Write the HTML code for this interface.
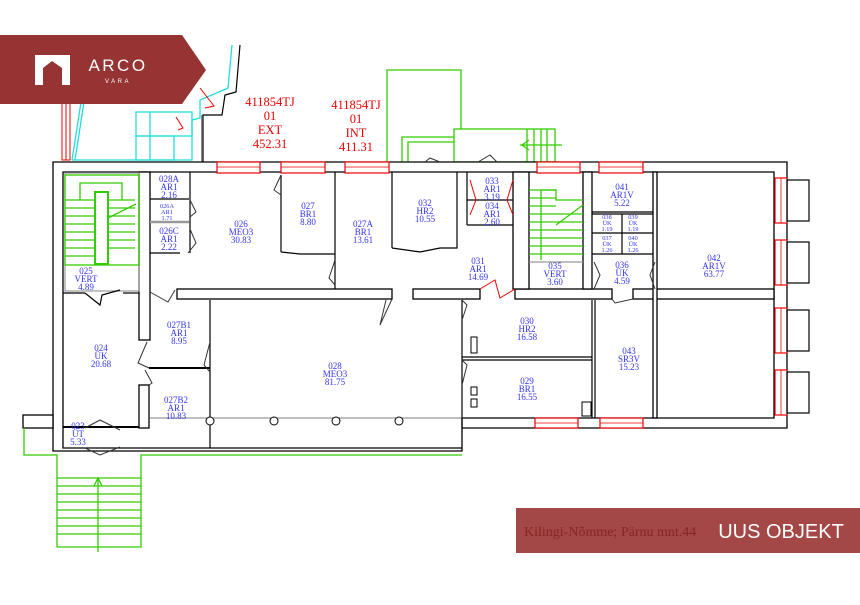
<!DOCTYPE html>
<html><head><meta charset="utf-8"><style>
html,body{margin:0;padding:0;background:#fff;}
svg{display:block;}
.w{fill:#fff;stroke:#000;stroke-width:1.3;}
.k{stroke:#000;stroke-width:1.2;fill:none;}
.g{stroke:#33cc00;stroke-width:1.3;fill:none;}
.c{stroke:#22dddd;stroke-width:1.3;fill:none;}
.r{fill:#fff;stroke:#e00;stroke-width:1.2;}
.lb{font-family:"Liberation Serif",serif;font-size:9px;fill:#3333ee;text-anchor:middle;}
.sm{font-size:6.3px;}
.rd{font-family:"Liberation Serif",serif;font-size:12.5px;fill:#e00;text-anchor:middle;}
</style></head><body>
<svg width="860" height="605" viewBox="0 0 860 605" xmlns="http://www.w3.org/2000/svg">
<g class="c">
<polyline points="72,160 86,70"/>
<polyline points="75,160 89,70"/>
<polyline points="72,160 192,160 192,120 200,118 200,100 228,88 232,45"/>
<rect x="136" y="112" width="56" height="24"/>
<rect x="136" y="136" width="38" height="24"/>
<line x1="150" y1="112" x2="150" y2="160"/>
</g>
<polyline class="k" points="240,45 236,92 225,95 222,115 203,115 203,162" />
<line x1="202" y1="115" x2="202" y2="162" stroke="#666" stroke-width="1.5"/>
<g fill="none" stroke="#e00" stroke-width="1">
<rect x="62" y="100" width="8" height="60"/>
<line x1="66" y1="100" x2="66" y2="160"/>
<path d="M200,88 L214,106 L205,108"/>
<path d="M176,117 L183,128 L178,130"/>
</g>
<g class="g">
<polyline points="387,162 387,70 461,70 461,129"/>
<polyline points="402,162 402,137 454,137"/>
<polyline points="408,162 408,142 454,142"/>
<rect x="454" y="129" width="101" height="33"/>
<line x1="527" y1="129" x2="527" y2="162"/>
<line x1="534" y1="129" x2="534" y2="162"/>
<line x1="541" y1="129" x2="541" y2="162"/>
<line x1="547" y1="129" x2="547" y2="162"/>
<line x1="520" y1="145" x2="562" y2="145"/>
<polyline points="529,140 522,145 529,150"/>
</g>
<text class="rd" x="270" y="106">411854TJ</text>
<text class="rd" x="270" y="120">01</text>
<text class="rd" x="270" y="134">EXT</text>
<text class="rd" x="270" y="148">452.31</text>
<text class="rd" x="356" y="109">411854TJ</text>
<text class="rd" x="356" y="123">01</text>
<text class="rd" x="356" y="137">INT</text>
<text class="rd" x="356" y="151">411.31</text>

<path class="w" fill-rule="evenodd" d="M53,162 L787,162 L787,428 L462,428 L462,451 L53,451 L53,162 Z
 M63,172 L774,172 L774,418 L462,418 L462,448 L63,448 Z"/>
<rect class="w" x="23" y="415" width="30" height="13"/>
<g class="g">
<polyline points="24,428 24,455 57,455 57,547 141,547 141,455 462,455"/>
<line x1="57" y1="478" x2="141" y2="478"/><line x1="57" y1="486" x2="141" y2="486"/>
<line x1="57" y1="494" x2="141" y2="494"/><line x1="57" y1="502" x2="141" y2="502"/>
<line x1="57" y1="510" x2="141" y2="510"/><line x1="57" y1="518" x2="141" y2="518"/>
<line x1="57" y1="526" x2="141" y2="526"/><line x1="57" y1="534" x2="141" y2="534"/>
<line x1="98" y1="478" x2="98" y2="552"/>
<polyline points="94,486 98,478 102,486"/>
</g>
<g class="r">
<rect x="217" y="162" width="43" height="11"/><rect x="281" y="162" width="44" height="11"/><rect x="345" y="162" width="44" height="11"/>
<rect x="537" y="162" width="43" height="11"/><rect x="599" y="162" width="44" height="11"/>
<rect x="535" y="418" width="43" height="10"/><rect x="600" y="418" width="43" height="10"/>
<rect x="775" y="178" width="12" height="45"/><rect x="775" y="240" width="12" height="45"/>
<rect x="775" y="308" width="12" height="45"/><rect x="775" y="370" width="12" height="45"/>
</g>
<g stroke="#e00" stroke-width="0.8">
<line x1="217" y1="167" x2="260" y2="167"/><line x1="281" y1="167" x2="325" y2="167"/><line x1="345" y1="167" x2="389" y2="167"/>
<line x1="537" y1="167" x2="580" y2="167"/><line x1="599" y1="167" x2="643" y2="167"/>
<line x1="535" y1="423" x2="578" y2="423"/><line x1="600" y1="423" x2="643" y2="423"/>
<line x1="781" y1="178" x2="781" y2="223"/><line x1="781" y1="240" x2="781" y2="285"/>
<line x1="781" y1="308" x2="781" y2="353"/><line x1="781" y1="370" x2="781" y2="415"/>
</g>
<g fill="none" stroke="#000" stroke-width="1.2">
<rect x="787" y="180" width="22" height="41"/><rect x="787" y="242" width="22" height="41"/>
<rect x="787" y="310" width="22" height="41"/><rect x="787" y="372" width="22" height="41"/>
</g>
<g class="w">
<rect x="139" y="172" width="11" height="168"/>
<rect x="139" y="385" width="10" height="43"/>
<rect x="177" y="289" width="215" height="10"/>
<rect x="413" y="289" width="67" height="10"/>
<rect x="515" y="289" width="97" height="10"/>
<rect x="633" y="289" width="141" height="10"/>
<rect x="513" y="172" width="16" height="117"/>
<rect x="583" y="172" width="9" height="117"/>
<rect x="653" y="172" width="4" height="246"/>
</g>
<g class="k">
<rect x="65" y="173" width="74" height="118" stroke="#999"/>
<line x1="63" y1="293" x2="85" y2="293"/><line x1="123" y1="293" x2="139" y2="293"/>
<polyline points="85,293 100,305 102,295 120,290"/>
<line x1="150" y1="199" x2="189" y2="199"/>
<line x1="150" y1="222" x2="189" y2="222" stroke="#999" stroke-width="2.5"/>
<line x1="150" y1="253" x2="180" y2="253"/>
<line x1="190" y1="172" x2="190" y2="253"/>
<line x1="281" y1="175" x2="281" y2="252"/>
<polyline points="281,252 300,254 335,254"/>
<line x1="335" y1="172" x2="335" y2="289"/>
<line x1="392" y1="172" x2="392" y2="248"/>
<polyline points="392,248 420,252 440,248 457,248 457,172"/>
<line x1="467" y1="172" x2="467" y2="225"/>
<line x1="467" y1="200" x2="513" y2="200"/>
<line x1="467" y1="225" x2="513" y2="225"/>
<line x1="592" y1="212" x2="653" y2="212"/>
<line x1="592" y1="214" x2="653" y2="214"/>
<line x1="592" y1="254" x2="653" y2="254"/>
<line x1="622" y1="214" x2="622" y2="254"/>
<line x1="592" y1="233" x2="653" y2="233"/>
<line x1="529" y1="262" x2="583" y2="262" stroke="#999"/>
<line x1="210" y1="300" x2="210" y2="448"/>
<line x1="149" y1="368" x2="210" y2="368" stroke-width="2"/>
<line x1="150" y1="418" x2="462" y2="418" stroke="#999"/>
<line x1="462" y1="300" x2="462" y2="428"/>
<line x1="462" y1="357" x2="592" y2="357"/>
<line x1="462" y1="360" x2="592" y2="360"/>
<line x1="592" y1="300" x2="592" y2="418"/>
<line x1="595" y1="300" x2="595" y2="418"/>
<line x1="63" y1="427" x2="139" y2="427" stroke-width="2"/>
</g>
<g fill="#fff" stroke="#000" stroke-width="1">
<circle cx="210" cy="421" r="4"/><circle cx="274" cy="421" r="4"/><circle cx="336" cy="421" r="4"/><circle cx="399" cy="421" r="4"/>
<rect x="471" y="337" width="6" height="16"/><rect x="471" y="387" width="6" height="8"/><rect x="471" y="399" width="6" height="8"/>
<rect x="582" y="402" width="9" height="14"/>
</g>
<g fill="none" stroke="#333" stroke-width="1">
<polyline points="190,200 196,212 190,217"/>
<polyline points="190,229 196,243 188,253"/>
<polyline points="281,175 274,190 281,195"/>
<polyline points="335,260 329,278 335,285"/>
<polyline points="392,299 380,325 386,300"/>
<polyline points="150,292 168,302 175,290"/>
<polyline points="147,342 138,363 149,368"/>
<polyline points="210,342 204,365 210,372"/>
<polyline points="145,370 152,383 149,385"/>
<polyline points="85,428 100,420 120,430"/>
<polyline points="85,448 100,455 120,447"/>
<polyline points="462,300 467,305 462,320"/>
<polyline points="462,360 467,365 462,385"/>
<polyline points="594,262 600,275 594,289"/>
<polyline points="655,262 650,275 655,289"/>
<polyline points="612,299 615,303 633,299"/>
<polyline points="497,162 490,155 478,162"/>
<polyline points="425,162 430,158 440,162"/>
</g>
<g fill="none" stroke="#e00" stroke-width="1">
<polyline points="480,289 495,280 500,298 515,289"/>
<polyline points="470,180 476,200 470,215"/>
<polyline points="513,180 507,200 513,215"/>
</g>
<g class="g">
<rect x="65" y="175" width="74" height="90"/>
<rect x="95" y="192" width="13" height="72" stroke-width="2"/>
<line x1="65" y1="200" x2="95" y2="200"/><line x1="65" y1="208" x2="95" y2="208"/><line x1="65" y1="216" x2="95" y2="216"/>
<line x1="65" y1="224" x2="95" y2="224"/><line x1="65" y1="232" x2="95" y2="232"/><line x1="65" y1="240" x2="95" y2="240"/>
<line x1="65" y1="248" x2="95" y2="248"/><line x1="65" y1="256" x2="95" y2="256"/>
<line x1="108" y1="200" x2="135" y2="200"/><line x1="108" y1="208" x2="135" y2="208"/><line x1="108" y1="216" x2="135" y2="216"/>
<line x1="108" y1="224" x2="135" y2="224"/><line x1="108" y1="232" x2="135" y2="232"/><line x1="108" y1="240" x2="135" y2="240"/>
<line x1="108" y1="248" x2="135" y2="248"/>
<line x1="108" y1="218" x2="136" y2="204"/>
<polyline points="80,200 80,183 122,183 122,200"/>
<line x1="529" y1="190" x2="556" y2="190"/><line x1="529" y1="198" x2="556" y2="198"/><line x1="529" y1="206" x2="556" y2="206"/>
<line x1="529" y1="214" x2="583" y2="214"/><line x1="529" y1="222" x2="583" y2="222"/><line x1="529" y1="230" x2="583" y2="230"/>
<line x1="529" y1="238" x2="583" y2="238"/><line x1="529" y1="246" x2="583" y2="246"/><line x1="529" y1="254" x2="583" y2="254"/>
<polyline points="541,260 541,190 556,190 556,200 583,200"/>
<line x1="556" y1="225" x2="583" y2="205"/>
</g>
<g class="lb">
<text x="169" y="182">028A</text><text x="169" y="190">AR1</text><text x="169" y="198">2.16</text>
<text class="lb sm" x="167" y="208">026A</text><text class="lb sm" x="167" y="214">AR1</text><text class="lb sm" x="167" y="220">1.71</text>
<text x="169" y="234">026C</text><text x="169" y="242">AR1</text><text x="169" y="250">2.22</text>
<text x="241" y="227">026</text><text x="241" y="235">MEO3</text><text x="241" y="243">30.83</text>
<text x="308" y="209">027</text><text x="308" y="217">BR1</text><text x="308" y="225">8.80</text>
<text x="363" y="227">027A</text><text x="363" y="235">BR1</text><text x="363" y="243">13.61</text>
<text x="425" y="206">032</text><text x="425" y="214">HR2</text><text x="425" y="222">10.55</text>
<text x="492" y="184">033</text><text x="492" y="192">AR1</text><text x="492" y="200">3.19</text>
<text x="492" y="209">034</text><text x="492" y="217">AR1</text><text x="492" y="225">2.60</text>
<text x="478" y="264">031</text><text x="478" y="272">AR1</text><text x="478" y="280">14.69</text>
<text x="555" y="269">035</text><text x="555" y="277">VERT</text><text x="555" y="285">3.60</text>
<text x="622" y="190">041</text><text x="622" y="198">AR1V</text><text x="622" y="206">5.22</text>
<text class="lb sm" x="607" y="219">038</text><text class="lb sm" x="607" y="225">ÜK</text><text class="lb sm" x="607" y="231">1.19</text>
<text class="lb sm" x="633" y="219">039</text><text class="lb sm" x="633" y="225">ÜK</text><text class="lb sm" x="633" y="231">1.19</text>
<text class="lb sm" x="607" y="240">037</text><text class="lb sm" x="607" y="246">ÜK</text><text class="lb sm" x="607" y="252">1.26</text>
<text class="lb sm" x="633" y="240">040</text><text class="lb sm" x="633" y="246">ÜK</text><text class="lb sm" x="633" y="252">1.26</text>
<text x="622" y="268">036</text><text x="622" y="276">ÜK</text><text x="622" y="284">4.59</text>
<text x="714" y="261">042</text><text x="714" y="269">AR1V</text><text x="714" y="277">63.77</text>
<text x="86" y="274">025</text><text x="86" y="282">VERT</text><text x="86" y="290">4.89</text>
<text x="101" y="351">024</text><text x="101" y="359">ÜK</text><text x="101" y="367">20.68</text>
<text x="179" y="328">027B1</text><text x="179" y="336">AR1</text><text x="179" y="344">8.95</text>
<text x="335" y="369">028</text><text x="335" y="377">MEO3</text><text x="335" y="385">81.75</text>
<text x="527" y="324">030</text><text x="527" y="332">HR2</text><text x="527" y="340">16.58</text>
<text x="527" y="384">029</text><text x="527" y="392">BR1</text><text x="527" y="400">16.55</text>
<text x="629" y="354">043</text><text x="629" y="362">SR3V</text><text x="629" y="370">15.23</text>
<text x="176" y="403">027B2</text><text x="176" y="411">AR1</text><text x="176" y="419">10.83</text>
<text x="78" y="429">023</text><text x="78" y="437">ÜT</text><text x="78" y="445">5.33</text>
</g>
<polygon points="0,35 182,35 206,70 182,104 0,104" fill="#963333"/>
<path d="M35,55 L70,55 L70,85 L62,85 L62,68 L52,61 L43,68 L43,85 L35,85 Z" fill="#fff"/>
<text x="118" y="71" fill="#fff" font-family="Liberation Sans,sans-serif" font-size="17" letter-spacing="2.5" text-anchor="middle">ARCO</text>
<text x="118" y="83" fill="#fff" font-family="Liberation Sans,sans-serif" font-size="6" letter-spacing="2.5" text-anchor="middle">VARA</text>
<rect x="516" y="508" width="344" height="45" fill="#a34747"/>
<text x="524" y="536" fill="#8a2424" font-family="Liberation Serif,serif" font-size="14">Kilingi-Nõmme; Pärnu mnt.44</text>
<text x="781" y="538" fill="#fff" font-family="Liberation Sans,sans-serif" font-size="20" text-anchor="middle">UUS OBJEKT</text>
</svg>
</body></html>
